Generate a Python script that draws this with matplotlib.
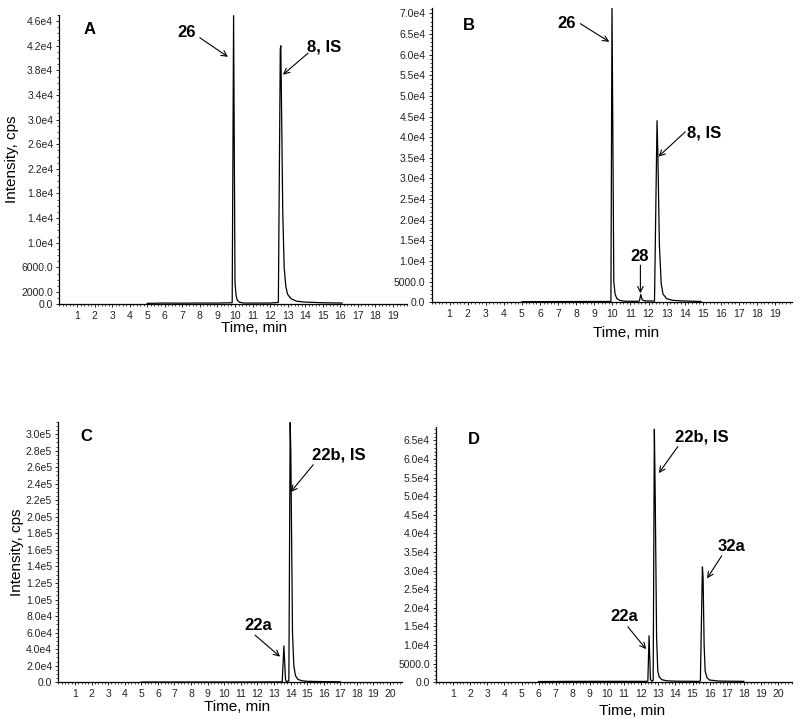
import numpy as np
import matplotlib.pyplot as plt
from matplotlib.ticker import MultipleLocator

plt.rcParams['font.family'] = ['Liberation Sans', 'DejaVu Sans']

# panel A: peaks 26 and 8 (IS)
t_a = [5.0, 6.0, 7.0, 8.0, 9.0, 9.84, 9.92, 10.0, 10.06, 10.12, 10.25, 10.5, 11.0, 12.0,
       12.47, 12.58, 12.61, 12.66, 12.72, 12.8, 12.9, 13.0, 13.2, 13.5, 14.0, 15.0, 16.1]
i_a = [150, 200, 180, 200, 200, 250, 46900, 3500, 1500, 700, 350, 200, 200, 200,
       300, 41500, 42000, 30000, 15000, 6000, 2800, 1600, 900, 500, 350, 250, 200]

# panel B: peaks 26, 28 and 8 (IS)
t_b = [5.0, 7.0, 9.0, 9.92, 9.98, 10.08, 10.15, 10.25, 10.4, 10.6, 11.0, 11.45,
       11.5, 11.57, 11.65, 11.8, 12.33, 12.47, 12.52, 12.6, 12.7, 12.8, 13.0, 13.3,
       13.8, 14.5, 14.9]
i_b = [150, 180, 200, 200, 71800, 5000, 2000, 900, 500, 300, 250, 250,
       400, 1900, 600, 350, 300, 44000, 35000, 14000, 4500, 2000, 900, 500,
       350, 250, 200]

# panel C: peaks 22a and 22b (IS)
t_c = [5.0, 8.0, 11.0, 13.5, 13.6, 13.7, 13.76, 13.9, 13.98, 14.02, 14.12, 14.2,
       14.3, 14.45, 14.7, 15.0, 16.0, 17.0]
i_c = [300, 300, 300, 500, 44000, 3000, 1000, 1500, 314000, 275000, 60000, 20000,
       8000, 3500, 1800, 1200, 800, 600]

# panel D: peaks 22a, 22b (IS) and 32a
t_d = [6.0, 8.0, 10.0, 12.3, 12.39, 12.46, 12.54, 12.62, 12.70, 12.77, 12.82, 12.9,
       12.97, 13.05, 13.2, 13.5, 14.0, 15.4, 15.46, 15.58, 15.62, 15.68, 15.74, 15.85,
       16.0, 16.5, 17.0, 18.0]
i_d = [200, 250, 250, 250, 400, 12500, 800, 300, 500, 68000, 50000, 12000,
       3000, 1500, 700, 400, 300, 250, 400, 31000, 28000, 10000, 3000, 1200,
       600, 350, 300, 250]

yt_a = [0, 2000, 6000, 10000, 14000, 18000, 22000, 26000, 30000, 34000, 38000, 42000, 46000]
yl_a = ['0.0', '2000.0', '6000.0', '1.0e4', '1.4e4', '1.8e4', '2.2e4', '2.6e4', '3.0e4',
        '3.4e4', '3.8e4', '4.2e4', '4.6e4']
yt_b = [0, 5000, 10000, 15000, 20000, 25000, 30000, 35000, 40000, 45000, 50000, 55000,
        60000, 65000, 70000]
yl_b = ['0.0', '5000.0', '1.0e4', '1.5e4', '2.0e4', '2.5e4', '3.0e4', '3.5e4', '4.0e4',
        '4.5e4', '5.0e4', '5.5e4', '6.0e4', '6.5e4', '7.0e4']
yt_c = [0, 20000, 40000, 60000, 80000, 100000, 120000, 140000, 160000, 180000, 200000,
        220000, 240000, 260000, 280000, 300000]
yl_c = ['0.0', '2.0e4', '4.0e4', '6.0e4', '8.0e4', '1.0e5', '1.2e5', '1.4e5', '1.6e5',
        '1.8e5', '2.0e5', '2.2e5', '2.4e5', '2.6e5', '2.8e5', '3.0e5']
yt_d = [0, 5000, 10000, 15000, 20000, 25000, 30000, 35000, 40000, 45000, 50000, 55000,
        60000, 65000]
yl_d = ['0.0', '5000.0', '1.0e4', '1.5e4', '2.0e4', '2.5e4', '3.0e4', '3.5e4', '4.0e4',
        '4.5e4', '5.0e4', '5.5e4', '6.0e4', '6.5e4']

fig = plt.figure(figsize=(8, 7.25), dpi=100)

def setup(rect, t, inten, xmax, ymax, yt, yl, nx, yminor, xlab_pos, ylab=None):
    ax = fig.add_axes(rect)
    ax.plot(t, inten, color='black', lw=0.9)
    ax.set_xlim(0, xmax)
    ax.set_ylim(0, ymax)
    ax.spines['top'].set_visible(False)
    ax.spines['right'].set_visible(False)
    ax.spines['left'].set_linewidth(0.9)
    ax.spines['bottom'].set_linewidth(0.9)
    ax.set_xticks(range(1, nx + 1))
    ax.set_xticklabels([str(k) for k in range(1, nx + 1)])
    ax.set_yticks(yt)
    ax.set_yticklabels(yl)
    ax.xaxis.set_minor_locator(MultipleLocator(0.2))
    ax.yaxis.set_minor_locator(MultipleLocator(yminor))
    ax.tick_params(which='major', length=2, width=0.6, labelsize=7.5, pad=2.5,
                   labelcolor='#222222')
    ax.tick_params(which='minor', length=1.3, width=0.5)
    ax.set_xlabel('Time, min', fontsize=11)
    ax.xaxis.set_label_coords(*xlab_pos)
    if ylab is not None:
        ax.set_ylabel('Intensity, cps', fontsize=11)
        ax.yaxis.set_label_coords(*ylab)
    return ax

def note(ax, s, xy, ha='center'):
    ax.text(xy[0], xy[1], s, fontsize=12, fontweight='bold', ha=ha, va='center')

def arrow(ax, tail, tip):
    ax.annotate('', xy=tip, xytext=tail,
                arrowprops=dict(arrowstyle='->', lw=0.8, color='black',
                                mutation_scale=10, shrinkA=0, shrinkB=0))

ax_a = setup([0.0743, 0.5803, 0.4345, 0.399], t_a, i_a, 19.8, 47000, yt_a, yl_a, 19, 1000,
             (0.56, -0.058), ylab=(-0.115, 0.5))
note(ax_a, 'A', (1.69, 44700))
note(ax_a, '26', (7.27, 44200))
arrow(ax_a, (8.0, 43300), (9.6, 40200))
note(ax_a, '8, IS', (14.1, 41800), ha='left')
arrow(ax_a, (14.16, 40800), (12.73, 37300))

ax_b = setup([0.5394, 0.583, 0.4503, 0.406], t_b, i_b, 19.92, 71300, yt_b, yl_b, 19, 1000,
             (0.54, -0.08))
note(ax_b, 'B', (2.05, 67100))
note(ax_b, '26', (7.49, 67500))
arrow(ax_b, (8.23, 67500), (9.83, 63100))
note(ax_b, '8, IS', (14.12, 40900), ha='left')
arrow(ax_b, (14.03, 41300), (12.55, 35300))
note(ax_b, '28', (11.5, 11000))
arrow(ax_b, (11.55, 9000), (11.55, 2200))

ax_c = setup([0.073, 0.0589, 0.429, 0.3594], t_c, i_c, 20.7, 315000, yt_c, yl_c, 20, 5000,
             (0.52, -0.068), ylab=(-0.1, 0.5))
note(ax_c, 'C', (1.71, 297000))
note(ax_c, '22b, IS', (15.28, 275000), ha='left')
arrow(ax_c, (15.37, 263000), (14.01, 230000))
note(ax_c, '22a', (12.06, 69000))
arrow(ax_c, (11.86, 57000), (13.37, 31000))

ax_d = setup([0.545, 0.0589, 0.4446, 0.3517], t_d, i_d, 20.8, 68500, yt_d, yl_d, 20, 1000,
             (0.55, -0.085))
note(ax_d, 'D', (2.21, 65100))
note(ax_d, '22b, IS', (13.98, 65800), ha='left')
arrow(ax_d, (14.14, 63300), (13.03, 56200))
note(ax_d, '32a', (17.26, 36400))
arrow(ax_d, (16.71, 34000), (15.85, 27900))
note(ax_d, '22a', (10.98, 17600))
arrow(ax_d, (11.22, 14900), (12.29, 8900))

fig.savefig('out.png', dpi=100)
